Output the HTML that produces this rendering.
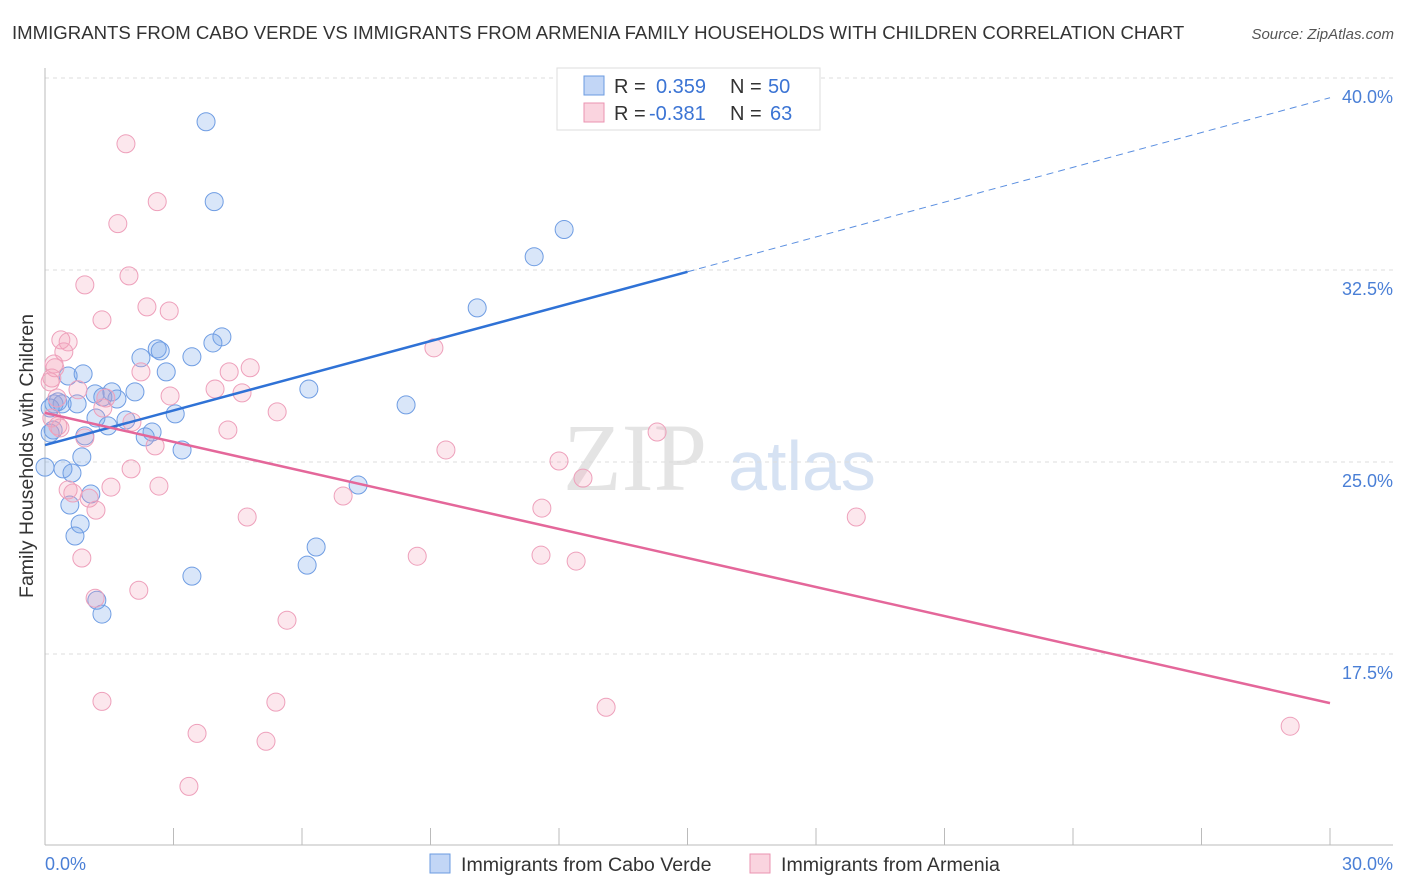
<!DOCTYPE html>
<html><head><meta charset="utf-8"><style>
body{margin:0;background:#fff;font-family:"Liberation Sans",sans-serif;}
svg{display:block}
</style></head><body>
<svg width="1406" height="892" xmlns="http://www.w3.org/2000/svg">
<text x="12" y="39" font-size="18.6" fill="#333">IMMIGRANTS FROM CABO VERDE VS IMMIGRANTS FROM ARMENIA FAMILY HOUSEHOLDS WITH CHILDREN CORRELATION CHART</text>
<text x="1394" y="39" font-size="15" fill="#555" font-style="italic" text-anchor="end">Source: ZipAtlas.com</text>
<text x="635" y="490" font-size="96" fill="#e4e4e4" font-family="Liberation Serif,serif" text-anchor="middle">ZIP</text>
<text x="802" y="490" font-size="70" fill="#d6e2f3" text-anchor="middle">atlas</text>
<g id="grid"></g>
<line x1="45" y1="68" x2="45" y2="845" stroke="#bbb"/>
<line x1="45" y1="845" x2="1393" y2="845" stroke="#bbb"/>
<g id="xticks"></g>
<text x="33" y="456" font-size="19.5" fill="#333" text-anchor="middle" transform="rotate(-90 33 456)">Family Households with Children</text>
<text x="45" y="870" font-size="18" fill="#4a7fd6">0.0%</text>
<text x="1393" y="870" font-size="18" fill="#4a7fd6" text-anchor="end">30.0%</text>
<g id="points"></g>
<g id="lines"></g>
<g>
<rect x="557" y="68" width="263" height="62" fill="#fff" stroke="#ddd"/>
<rect x="584" y="76" width="20" height="19" fill="rgba(120,165,235,0.45)" stroke="#6b9be0"/>
<rect x="584" y="103" width="20" height="19" fill="rgba(245,160,185,0.45)" stroke="#eb93b1"/>
<text x="614" y="93" font-size="20" fill="#333">R = </text><text x="656" y="93" font-size="20" fill="#3b74d4">0.359</text>
<text x="730" y="93" font-size="20" fill="#333">N = </text><text x="768" y="93" font-size="20" fill="#3b74d4">50</text>
<text x="614" y="120" font-size="20" fill="#333">R = </text><text x="649" y="120" font-size="20" fill="#3b74d4">-0.381</text>
<text x="730" y="120" font-size="20" fill="#333">N = </text><text x="770" y="120" font-size="20" fill="#3b74d4">63</text>
</g>
<g>
<rect x="430" y="854" width="20" height="19" fill="rgba(120,165,235,0.45)" stroke="#6b9be0"/>
<text x="461" y="871" font-size="19.6" fill="#333">Immigrants from Cabo Verde</text>
<rect x="750" y="854" width="20" height="19" fill="rgba(245,160,185,0.45)" stroke="#eb93b1"/>
<text x="781" y="871" font-size="19.6" fill="#333">Immigrants from Armenia</text>
</g>
</svg>
<script>
const yTicks=[40,32.5,25,17.5];
const yTickLabels=["40.0%","32.5%","25.0%","17.5%"];
const xTicks=[0,3,6,9,12,15,18,21,24,27,30];
const blueX=[3.76,3.95,12.12,11.42,10.09,4.13,3.92,2.62,2.69,2.24,3.43,2.83,0.54,0.89,6.16,1.56,1.17,2.10,0.30,0.21,0.40,0.75,0.12,1.68,1.35,8.43,3.04,1.19,1.89,1.47,0.19,0.12,2.50,2.34,0.93,3.20,0.86,0.00,0.42,0.63,7.31,1.07,0.58,0.82,0.70,6.33,6.12,3.43,1.21,1.33];
const blueY=[38.29,35.17,34.08,33.02,31.02,29.89,29.65,29.42,29.34,29.07,29.11,28.52,28.36,28.44,27.85,27.74,27.66,27.74,27.35,27.27,27.27,27.27,27.11,27.46,27.54,27.23,26.88,26.72,26.64,26.41,26.25,26.13,26.17,25.98,26.02,25.47,25.20,24.80,24.73,24.57,24.10,23.75,23.32,22.58,22.11,21.68,20.97,20.54,19.60,19.06];
const pinkX=[1.89,2.62,1.70,1.96,0.93,2.38,2.90,1.33,0.37,0.54,0.44,0.21,9.08,4.79,4.30,2.24,0.16,0.12,0.77,3.97,4.60,2.92,1.42,1.35,5.42,0.16,0.30,4.27,0.93,14.29,2.03,2.57,9.36,12.00,12.56,2.01,2.66,1.54,0.54,0.65,1.03,6.96,1.19,11.60,4.72,18.94,11.58,8.69,0.86,12.40,2.19,1.17,5.65,1.33,5.39,13.10,3.55,5.16,29.07,3.36,0.35,0.28,0.23];
const pinkY=[37.43,35.17,34.31,32.27,31.92,31.06,30.90,30.55,29.77,29.69,29.30,28.83,29.46,28.68,28.52,28.52,28.28,28.13,27.82,27.85,27.70,27.58,27.50,27.11,26.96,26.72,26.41,26.25,25.94,26.17,26.56,25.63,25.47,25.04,24.37,24.73,24.06,24.02,23.91,23.79,23.59,23.67,23.12,23.20,22.85,22.85,21.36,21.32,21.25,21.13,19.99,19.68,18.82,15.65,15.62,15.42,14.40,14.09,14.68,12.33,26.33,27.50,28.68];
const blueTrend=[[0,25.66],[15,32.43],[30,39.23]];
const pinkTrend=[[0,26.92],[30,15.58]];
const NS="http://www.w3.org/2000/svg";
const X=v=>45+v/30*1285;
const Y=v=>462-(v-25)*25.6;
function mk(tag,attrs,parent){const e=document.createElementNS(NS,tag);for(const k in attrs)e.setAttribute(k,attrs[k]);document.getElementById(parent).appendChild(e);return e;}
yTicks.forEach((t,i)=>{
 const l=mk('line',{x1:45,x2:1393,y1:Y(t),y2:Y(t),stroke:'#ddd','stroke-dasharray':'4,4'},'grid');
 
 
 const tx=mk('text',{x:1393,y:Y(t)+25,'font-size':18,fill:'#4a7fd6','text-anchor':'end'},'grid');
 tx.textContent=yTickLabels[i];
 
 
});
xTicks.forEach(t=>{
 const l=mk('line',{x1:X(t),x2:X(t),y1:828,y2:845,stroke:'#bbb'},'xticks');
 
 
});
blueX.forEach((v,i)=>{
 const c=mk('circle',{cx:X(v),cy:Y(blueY[i]),r:9,fill:'rgba(120,165,235,0.28)',stroke:'#6f9de3','stroke-width':1},'points');
 
 
});
pinkX.forEach((v,i)=>{
 const c=mk('circle',{cx:X(v),cy:Y(pinkY[i]),r:9,fill:'rgba(245,160,185,0.25)',stroke:'#eea0bb','stroke-width':1},'points');
 
 
});
const b1=mk('line',{x1:X(blueTrend[0][0]),y1:Y(blueTrend[0][1]),x2:X(blueTrend[1][0]),y2:Y(blueTrend[1][1]),stroke:'#2f72d6','stroke-width':2.5},'lines');


const b2=mk('line',{x1:X(blueTrend[1][0]),y1:Y(blueTrend[1][1]),x2:X(blueTrend[2][0]),y2:Y(blueTrend[2][1]),stroke:'#5b8fe0','stroke-width':1,'stroke-dasharray':'7,5'},'lines');


const p1=mk('line',{x1:X(pinkTrend[0][0]),y1:Y(pinkTrend[0][1]),x2:X(pinkTrend[1][0]),y2:Y(pinkTrend[1][1]),stroke:'#e4679a','stroke-width':2.5},'lines');


</script>
</body></html>
